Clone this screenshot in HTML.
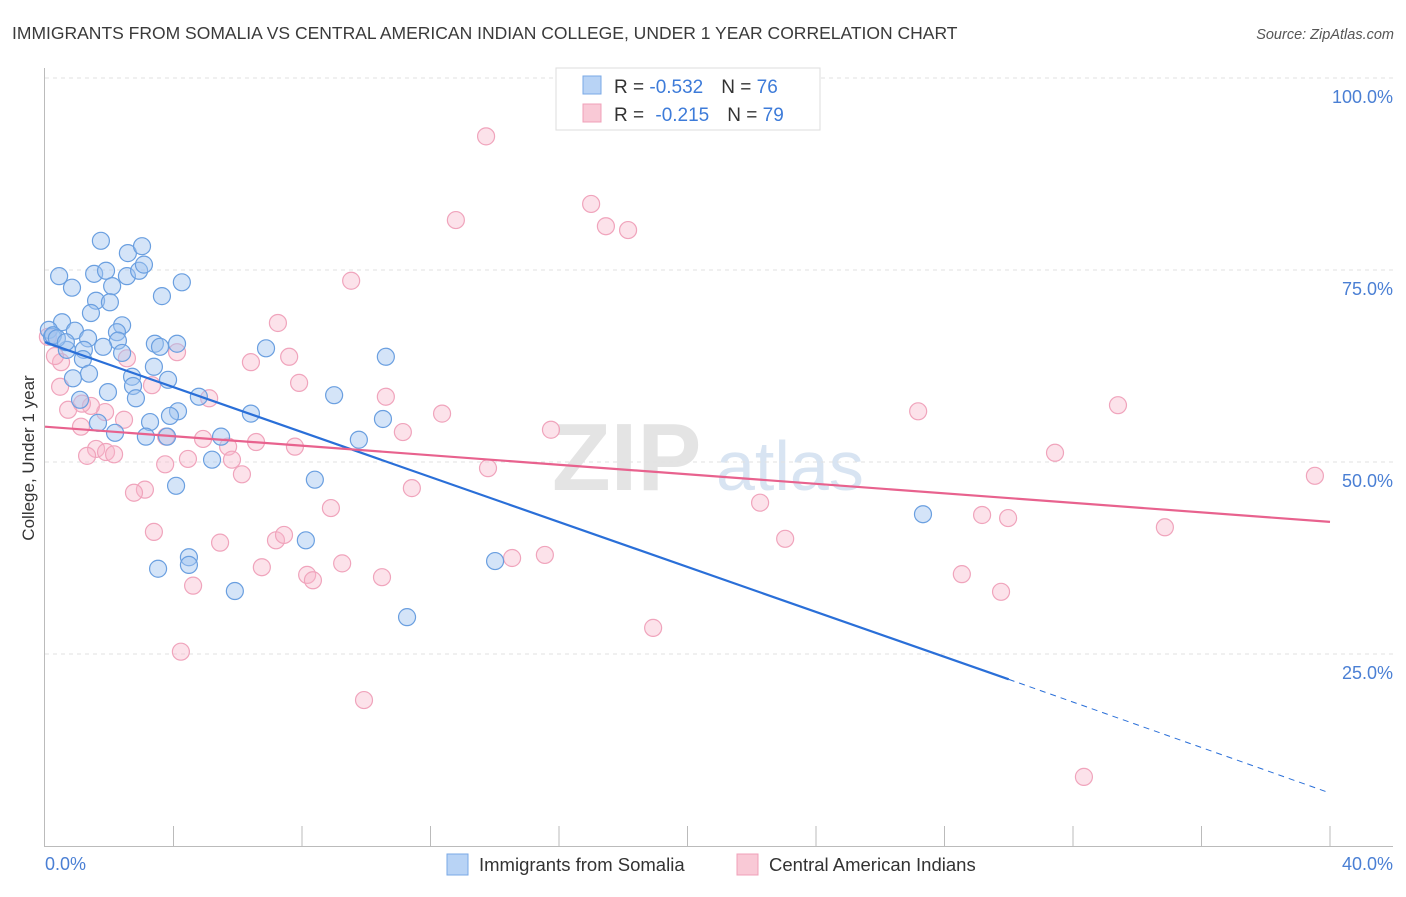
<!DOCTYPE html>
<html><head><meta charset="utf-8"><style>
body{margin:0;background:#fff;font-family:"Liberation Sans",sans-serif}
svg text{font-family:"Liberation Sans",sans-serif}
</style></head><body>
<svg width="1406" height="892" xmlns="http://www.w3.org/2000/svg">
<text x="12" y="39" font-size="17.5" fill="#3a3a3a">IMMIGRANTS FROM SOMALIA VS CENTRAL AMERICAN INDIAN COLLEGE, UNDER 1 YEAR CORRELATION CHART</text>
<text x="1394" y="39" font-size="14.5" fill="#555" text-anchor="end" font-style="italic">Source: ZipAtlas.com</text>
<g><text x="552" y="490" font-size="96" fill="#e4e4e4" font-family="Liberation Serif" font-weight="bold">ZIP</text><text x="716" y="490" font-size="70" fill="#d8e4f2">atlas</text></g>
<g id="grid"></g>
<g id="axes"></g>
<g id="pts"></g>
<g id="trend"></g>
<text x="34" y="458" font-size="17" fill="#333" text-anchor="middle" transform="rotate(-90 34 458)">College, Under 1 year</text>
<g>
<rect x="556" y="68" width="264" height="62" fill="#fff" stroke="#ddd"/>
<rect x="583" y="76" width="18" height="18" fill="#b8d3f5" stroke="#7aa8e6"/>
<rect x="583" y="104" width="18" height="18" fill="#f9c9d6" stroke="#f0a0b8"/>
<text x="614" y="93" font-size="19" fill="#333">R = <tspan fill="#3d7bd9">-0.532</tspan><tspan dx="18">N = </tspan><tspan fill="#3d7bd9">76</tspan></text>
<text x="614" y="121" font-size="19" fill="#333">R = <tspan dx="6" fill="#3d7bd9">-0.215</tspan><tspan dx="18">N = </tspan><tspan fill="#3d7bd9">79</tspan></text>
</g>
<g>
<rect x="447" y="854" width="21" height="21" fill="#b8d3f5" stroke="#7aa8e6"/>
<text x="479" y="871" font-size="18.5" fill="#333">Immigrants from Somalia</text>
<rect x="737" y="854" width="21" height="21" fill="#f9c9d6" stroke="#f0a0b8"/>
<text x="769" y="871" font-size="18.5" fill="#333">Central American Indians</text>
</g>
</svg>
<script>
const blueX=[1.74,2.58,3.02,0.44,1.53,1.90,2.55,2.93,3.08,0.84,2.09,4.26,3.64,1.59,2.02,1.43,0.53,0.12,0.93,2.40,1.34,2.24,0.22,2.27,3.42,4.11,3.58,1.81,1.21,0.68,2.40,1.18,3.39,1.37,2.71,0.87,3.83,2.74,1.96,2.83,4.79,1.09,4.14,3.89,6.41,3.27,1.65,2.18,3.14,5.48,3.80,5.20,4.08,6.88,10.61,9.00,10.52,9.77,8.40,8.12,4.48,4.48,3.52,5.91,11.27,14.01,27.33,0.25,0.37,0.65];
const blueY=[78.8,77.2,78.1,74.2,74.5,74.9,74.2,74.9,75.7,72.7,72.9,73.4,71.6,71.0,70.8,69.4,68.2,67.2,67.1,67.8,66.1,66.9,66.3,65.8,65.4,65.4,65.0,65.0,64.6,64.6,64.2,63.4,62.4,61.5,61.1,60.9,60.7,59.9,59.1,58.3,58.5,58.1,56.6,56.0,56.3,55.2,55.1,53.8,53.3,53.3,53.3,50.3,46.9,64.8,63.7,58.7,55.6,52.9,47.7,39.8,37.6,36.6,36.1,33.2,29.8,37.1,43.2,66.5,66.1,65.6];
const pinkX=[13.73,17.00,12.79,17.46,18.15,9.53,7.25,4.11,2.55,7.60,6.41,0.50,0.47,7.91,3.33,5.11,10.61,1.87,2.46,0.72,1.43,1.15,12.36,1.12,15.75,11.14,4.92,5.70,3.77,6.57,7.78,1.59,1.90,2.15,1.31,5.82,4.45,3.74,13.79,6.13,11.42,3.11,2.77,8.90,3.39,5.45,7.19,7.44,6.75,8.16,8.34,9.25,10.49,14.54,15.56,4.61,4.23,9.93,18.93,27.18,33.40,31.44,39.53,22.26,23.04,29.17,29.98,34.86,28.54,29.76,32.34,0.09,0.31];
const pinkY=[92.4,83.6,81.5,80.7,80.2,73.6,68.1,64.3,63.5,63.7,63.0,63.0,59.8,60.3,60.0,58.3,58.5,56.5,55.5,56.8,57.3,57.6,56.3,54.6,54.2,53.9,53.0,52.0,53.3,52.6,52.0,51.7,51.3,51.0,50.8,50.3,50.4,49.7,49.2,48.4,46.6,46.4,46.0,44.0,40.9,39.5,39.8,40.5,36.3,35.3,34.6,36.8,35.0,37.5,37.9,33.9,25.3,19.0,28.4,56.6,57.4,51.2,48.2,44.7,40.0,43.1,42.7,41.5,35.4,33.1,9.0,66.3,63.8];
const yTicks=[25,50,75,100];
const yTickLabels=["25.0%","50.0%","75.0%","100.0%"];
const blueTrend=[[0,65.6],[30,21.7],[40,6.9]];
const pinkTrend=[[0,54.6],[40,42.2]];
const X=v=>45+v/40*1285, Y=v=>846-v/100*768;
const NS="http://www.w3.org/2000/svg";
function mk(t,a,p){const e=document.createElementNS(NS,t);for(const k in a)e.setAttribute(k,a[k]);p.appendChild(e);return e;}
const grid=document.getElementById('grid'),axes=document.getElementById('axes'),pts=document.getElementById('pts'),tr=document.getElementById('trend');
yTicks.forEach((t,i)=>{
 const l=mk('line',{x1:45,x2:1393,y1:Y(t),y2:Y(t),stroke:'#e2e2e2','stroke-dasharray':'4,4'},grid);
 
 
 const tx=mk('text',{x:1393,y:Y(t)+25,'font-size':18,fill:'#4a7fd4','text-anchor':'end'},axes);
 tx.textContent=yTickLabels[i];
 
 
});
mk('line',{x1:44.5,x2:44.5,y1:68,y2:846,stroke:'#bbb'},axes);
mk('line',{x1:44,x2:1393,y1:846.5,y2:846.5,stroke:'#bbb'},axes);
for(let i=1;i<=10;i++){const t=mk('line',{x1:X(i*4),x2:X(i*4),y1:826,y2:846,stroke:'#bbb'},axes);
 
 }
const x0=mk('text',{x:45,y:870,'font-size':18,fill:'#4a7fd4'},axes);x0.textContent='0.0%';


const x1=mk('text',{x:1393,y:870,'font-size':18,fill:'#4a7fd4','text-anchor':'end'},axes);x1.textContent='40.0%';


pinkX.forEach((v,i)=>{const c=mk('circle',{cx:X(v),cy:Y(pinkY[i]),r:8.5,fill:'rgba(248,182,202,0.4)',stroke:'#f0a4bc','stroke-width':1.2},pts);
 
 });
blueX.forEach((v,i)=>{const c=mk('circle',{cx:X(v),cy:Y(blueY[i]),r:8.5,fill:'rgba(160,196,240,0.45)',stroke:'#6a9fe0','stroke-width':1.2},pts);
 
 });
const b1=mk('line',{x1:X(blueTrend[0][0]),y1:Y(blueTrend[0][1]),x2:X(blueTrend[1][0]),y2:Y(blueTrend[1][1]),stroke:'#2a6fd8','stroke-width':2.2},tr);


const b2=mk('line',{x1:X(blueTrend[1][0]),y1:Y(blueTrend[1][1]),x2:X(blueTrend[2][0]),y2:Y(blueTrend[2][1]),stroke:'#2a6fd8','stroke-width':1,'stroke-dasharray':'6,5'},tr);


const p1=mk('line',{x1:X(pinkTrend[0][0]),y1:Y(pinkTrend[0][1]),x2:X(pinkTrend[1][0]),y2:Y(pinkTrend[1][1]),stroke:'#e8628e','stroke-width':2.2},tr);


</script>
</body></html>
